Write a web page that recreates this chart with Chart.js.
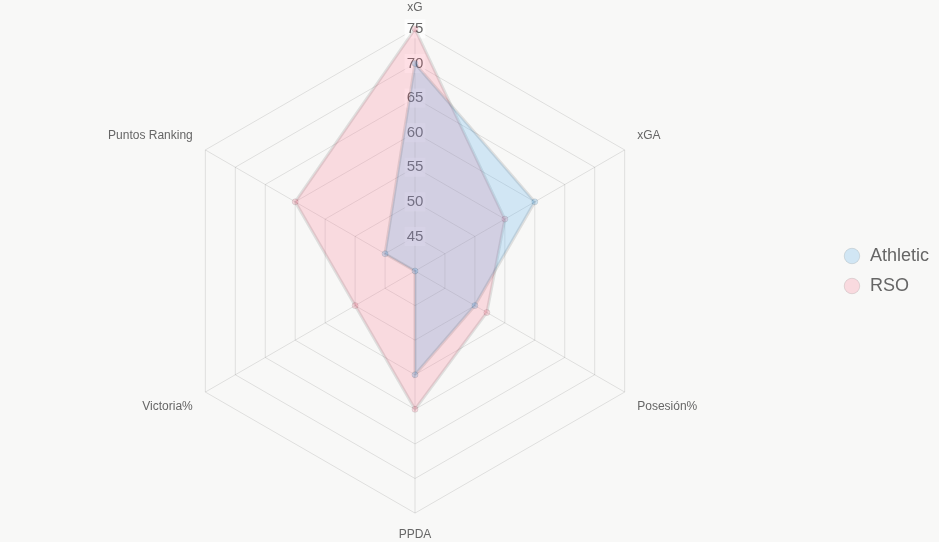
<!DOCTYPE html>
<html lang="es">
<head>
    <meta charset="UTF-8">
    <title>Athletic vs RSO</title>
    <style>
        html, body {
            margin: 0;
            padding: 0;
            background: #f8f8f7;
        }
        #wrap {
            width: 939px;
            height: 542px;
        }
    </style>
</head>
<body>
    <div id="wrap"><canvas id="radar"></canvas></div>

    <script src="https://cdn.jsdelivr.net/npm/chart.js"></script>
    <script>
        const labels = ['xG', 'xGA', 'Posesión%', 'PPDA', 'Victoria%', 'Puntos Ranking'];
        const athletic = [70, 60, 50, 55, 40, 45];
        const rso = [75, 55, 52, 60, 50, 60];

        Chart.defaults.font.family = "'Liberation Sans', Arial, sans-serif";
        Chart.defaults.color = '#666';

        new Chart(document.getElementById('radar'), {
            type: 'radar',
            data: {
                labels: labels,
                datasets: [
                    {
                        label: 'Athletic',
                        data: athletic,
                        backgroundColor: 'rgba(54, 162, 235, 0.2)'
                    },
                    {
                        label: 'RSO',
                        data: rso,
                        backgroundColor: 'rgba(255, 99, 132, 0.2)'
                    }
                ]
            },
            options: {
                responsive: true,
                maintainAspectRatio: false,
                animation: false,
                plugins: {
                    legend: {
                        position: 'right',
                        labels: {
                            usePointStyle: true,
                            boxHeight: 11,
                            padding: 12,
                            font: { size: 18 }
                        }
                    }
                },
                scales: {
                    r: {
                        min: 40,
                        max: 75,
                        ticks: {
                            stepSize: 5,
                            font: { size: 15 }
                        },
                        pointLabels: {
                            font: { size: 12 }
                        }
                    }
                }
            }
        });
    </script>
</body>
</html>
